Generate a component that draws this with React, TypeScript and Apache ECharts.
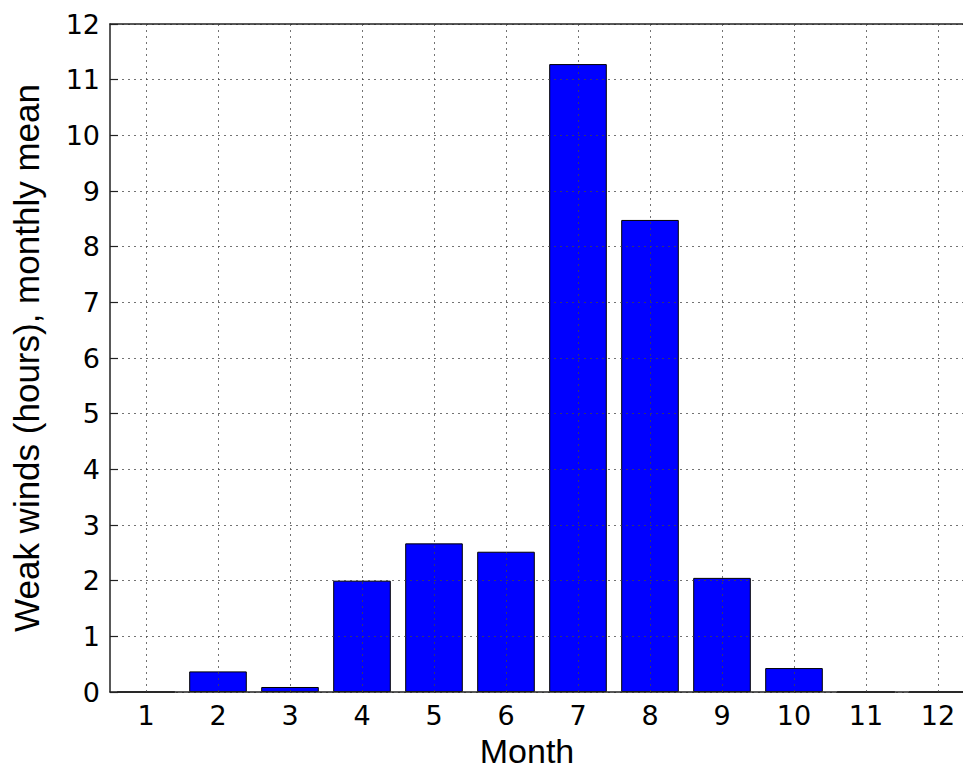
import React, { useEffect, useRef } from "react";
import * as echarts from "echarts";

const months = ["1", "2", "3", "4", "5", "6", "7", "8", "9", "10", "11", "12"];
const weakWindHours = [0, 0.37, 0.09, 2.0, 2.67, 2.52, 11.28, 8.48, 2.05, 0.43, 0, 0];
const yMin = 0;
const yMax = 12;
const yStep = 1;

export default function App() {
  const ref = useRef<HTMLDivElement>(null);
  useEffect(() => {
    if (!ref.current) return;
    const chart = echarts.init(ref.current, null, { renderer: "svg" });
    const tickFont = { fontFamily: "DejaVu Sans", fontSize: 27, color: "#000" };
    const gridLine = { color: "#444", width: 1, type: [2, 4] as any, opacity: 0.75 };
    chart.setOption({
      animation: false,
      backgroundColor: "#fff",
      grid: {
        left: 110,
        right: -11,
        top: 24,
        bottom: 77,
        containLabel: false,
        outerBoundsMode: "none",
      },
      xAxis: [
        {
          type: "category",
          data: months,
          position: "bottom",
          boundaryGap: true,
          z: 3,
          axisLine: { lineStyle: { color: "#222", width: 1.5 } },
          axisTick: { alignWithLabel: true, inside: true, length: 8, lineStyle: { color: "#222", width: 1.2 } },
          axisLabel: { ...tickFont, margin: 10 },
          splitLine: { show: false },
          name: "Month",
          nameLocation: "middle",
          nameGap: 39,
          nameTextStyle: {
            fontFamily: "Liberation Sans",
            fontSize: 34,
            lineHeight: 34,
            color: "#000",
            padding: [0, 30, 0, 0],
          },
        },
        {
          type: "category",
          data: months,
          position: "top",
          boundaryGap: true,
          z: 3,
          axisLine: { lineStyle: { color: "#222", width: 1.5 } },
          axisTick: { alignWithLabel: true, inside: true, length: 8, lineStyle: { color: "#222", width: 1.2 } },
          axisLabel: { show: false },
          splitLine: { show: false },
        },
      ],
      yAxis: {
        type: "value",
        min: yMin,
        max: yMax,
        interval: yStep,
        z: 3,
        axisLine: { show: true, lineStyle: { color: "#222", width: 1.5 } },
        axisTick: { show: true, inside: true, length: 8, lineStyle: { color: "#222", width: 1.2 } },
        axisLabel: { ...tickFont, margin: 10 },
        splitLine: { show: true, lineStyle: gridLine },
        name: "Weak winds (hours), monthly mean",
        nameLocation: "middle",
        nameGap: 66,
        nameTextStyle: { fontFamily: "Liberation Sans", fontSize: 35, color: "#000" },
      },
      series: [
        {
          type: "bar",
          data: weakWindHours,
          barWidth: "80%",
          itemStyle: { color: "#0000ff", borderColor: "#000", borderWidth: 1 },
          markLine: {
            silent: true,
            symbol: "none",
            label: { show: false },
            lineStyle: gridLine,
            data: months.map((m) => ({ xAxis: m })),
          },
        },
      ],
    });
    return () => chart.dispose();
  }, []);
  return (
    <div
      ref={ref}
      style={{ position: "fixed", left: 0, top: 0, width: 963, height: 769, background: "#fff" }}
    />
  );
}
